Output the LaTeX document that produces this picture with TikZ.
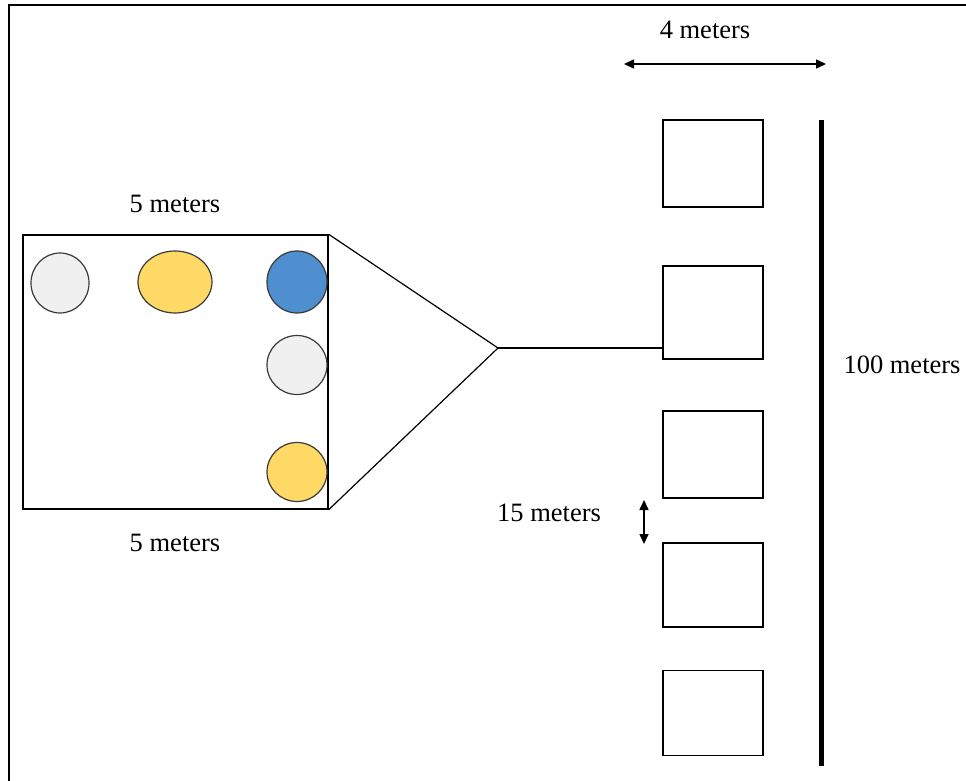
\documentclass[tikz,border=0pt]{standalone}
\usepackage{fontspec}
\setmainfont{Liberation Serif}
\usetikzlibrary{shapes.geometric,arrows.meta}
\definecolor{cgrey}{HTML}{F0F0F0}
\definecolor{cyellow}{HTML}{FFD966}
\definecolor{cblue}{HTML}{4F8ECF}
\definecolor{cedge}{HTML}{3A3A3A}
\begin{document}
\begin{tikzpicture}[x=1pt,y=-1pt,
  box/.style={draw=black,line width=1.4pt,minimum width=100pt,inner sep=0pt,fill=white},
  dot/.style={ellipse,draw=cedge,line width=1.2pt,inner sep=0pt},
  lbl/.style={font=\fontsize{26.5}{30}\selectfont,inner sep=0pt},
  dim/.style={line width=1.6pt,{Triangle[length=10pt,width=9pt]}-{Triangle[length=10pt,width=9pt]}}]
\useasboundingbox (0,0) rectangle (966,781);
% frame (top and left)
\coordinate (fTL) at (8.5,5.5);
\coordinate (fTR) at (966,5.5);
\coordinate (fBL) at (8.5,781);
\draw[line width=2pt] (fTR) -- (fTL) -- (fBL);
% big square
\node[box,line width=1.4pt,minimum width=305pt,minimum height=274pt] (big) at (175.5,372) {};
% circles
\node[dot,fill=cgrey,minimum width=58pt,minimum height=60pt] (c1) at (60,283) {};
\node[dot,fill=cyellow,minimum width=74pt,minimum height=62pt] (c2) at (175,282) {};
\node[dot,fill=cblue,minimum width=60pt,minimum height=62pt] (c3) at (297,282) {};
\node[dot,fill=cgrey,minimum width=60pt,minimum height=59pt] (c4) at (297,365) {};
\node[dot,fill=cyellow,minimum width=60pt,minimum height=59pt] (c5) at (297,472) {};
\draw[line width=1.4pt] (big.north east) -- (big.south east);
% labels for big square
\node[lbl] (t5a) at (175,204) {5 meters};
\node[lbl] (t5b) at (175,543) {5 meters};
% right squares
\node[box,minimum height=87pt] (s1) at (713,163.5) {};
\node[box,minimum height=93pt] (s2) at (713,312.5) {};
\node[box,minimum height=87pt] (s3) at (713,454.5) {};
\node[box,minimum height=84pt] (s4) at (713,585) {};
\node[box,minimum height=85pt] (s5) at (713,713) {};
% funnel
\coordinate (apex) at (498,348);
\draw[line width=1.2pt] (big.north east) -- (apex) -- (big.south east);
\draw[line width=1.4pt] (apex) -- (s2.west |- apex);
% thick bar
\coordinate (barT) at (821,120);
\coordinate (barB) at (821,766);
\draw[line width=5pt] (barT) -- (barB);
\node[lbl] (t100) at (902,365) {100 meters};
% 4 meters
\coordinate (a4L) at (624,64);
\coordinate (a4R) at (826,64);
\draw[dim] (a4L) -- (a4R);
\node[lbl] (t4) at (705,30) {4 meters};
% 15 meters
\coordinate (a15T) at (644,500);
\coordinate (a15B) at (644,544);
\draw[dim] (a15T) -- (a15B);
\node[lbl] (t15) at (549,513) {15 meters};
\end{tikzpicture}
\end{document}
